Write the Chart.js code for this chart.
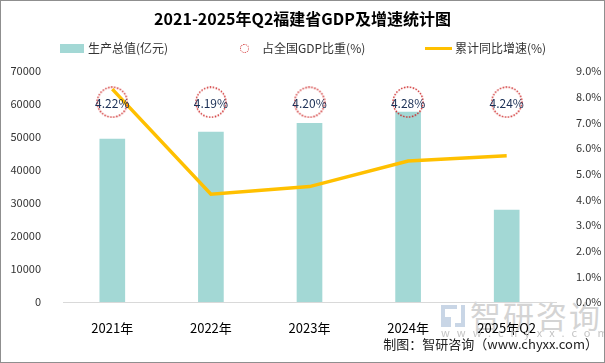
<!DOCTYPE html>
<html>
<head>
<meta charset="utf-8">
<script src="https://cdn.jsdelivr.net/npm/chart.js@4.4.1/dist/chart.umd.min.js"></script>
<style>
    body { margin: 0; background: #fff; }
    #wrap { position: relative; width: 605px; height: 363px; font-family: "Noto Sans CJK SC", sans-serif; overflow: hidden; }
    #chart { position: absolute; left: 0; top: 0; z-index: 2; }
    #frame { position: absolute; left: 0; top: 0; width: 603px; height: 361px; border: 1px solid #8f8f8f; z-index: 3; pointer-events: none; }
    .lg { position: absolute; z-index: 3; font-size: 12px; color: #333; line-height: 14px; white-space: nowrap; }
    .wm { position: absolute; z-index: 1; color: #d4d4d4; white-space: nowrap; }
    .src { position: absolute; z-index: 3; right: 7px; top: 334px; font-size: 13px; color: #222; white-space: nowrap; }
</style>
</head>
<body>
<div id="wrap">
    <canvas id="chart" width="605" height="363"></canvas>

    <!-- Legende -->
    <div class="lg" style="left:60px;top:44px;width:24px;height:9px;background:#a3d8d5"></div>
    <div class="lg" style="left:88px;top:41px">生产总值(亿元)</div>
    <div class="lg" style="left:240px;top:44px;width:7px;height:7px;border:1px dotted #d03030;border-radius:50%"></div>
    <div class="lg" style="left:262px;top:41px">占全国GDP比重(%)</div>
    <div class="lg" style="left:425px;top:47px;width:27px;height:3px;background:#ffc000"></div>
    <div class="lg" style="left:455px;top:41px">累计同比增速(%)</div>

    <!-- Wasserzeichen -->
    <div class="wm" style="left:441px;top:305px;width:12px;height:10px;border:4px solid #c9d6e6;border-right:none;border-bottom:none"></div>
    <div class="wm" style="left:455px;top:305px;width:10px;height:22px;border:4px solid #c9d6e6;border-left:none;border-top:none;box-sizing:border-box"></div>
    <div class="wm" style="left:441px;top:317px;width:10px;height:10px;background:#c9d6e6"></div>
    <div class="wm" style="left:470px;top:296px;font-size:31px;line-height:38px;letter-spacing:2px">智研咨询</div>
    <div class="wm" style="left:441px;top:326px;font-size:11px;line-height:12px;letter-spacing:7px;color:#c4c4c4;z-index:3">www.chyxx.com</div>

    <div class="src">制图：智研咨询（www.chyxx.com）</div>
    <div id="frame"></div>
</div>
<script>
const years = ['2021年', '2022年', '2023年', '2024年', '2025年Q2'];
const gdp = [49400, 51500, 54200, 57600, 27900];      // 生产总值(亿元)
const share = [4.22, 4.19, 4.20, 4.28, 4.24];        // 占全国GDP比重(%)
const growth = [8.3, 4.2, 4.5, 5.5, 5.7];            // 累计同比增速(%)

const gdpTicks = [0, 10000, 20000, 30000, 40000, 50000, 60000, 70000];
const growthTicks = [0, 1, 2, 3, 4, 5, 6, 7, 8, 9];

// gepunkteter Kreis als pointStyle
function dottedCircle(r) {
    const c = document.createElement('canvas');
    c.width = c.height = r * 2 + 2;
    const g = c.getContext('2d');
    g.strokeStyle = '#cc2020';
    g.lineWidth = 1.4;
    g.setLineDash([1.5, 1.5]);
    g.beginPath();
    g.arc(r + 1, r + 1, r, 0, Math.PI * 2);
    g.stroke();
    return c;
}

const labelFont = '"Noto Sans CJK SC", sans-serif';

const shareLabels = {
    id: 'shareLabels',
    afterDatasetsDraw(chart) {
        const meta = chart.getDatasetMeta(2);
        const ctx = chart.ctx;
        ctx.save();
        ctx.font = '12px ' + labelFont;
        ctx.fillStyle = '#1a2f55';
        ctx.textAlign = 'center';
        ctx.textBaseline = 'middle';
        meta.data.forEach((pt, i) => {
            ctx.fillText(share[i].toFixed(2) + '%', pt.x, pt.y + 1);
        });
        ctx.restore();
    }
};

new Chart(document.getElementById('chart'), {
    data: {
        labels: years,
        datasets: [
            {
                type: 'bar',
                label: '生产总值(亿元)',
                data: gdp,
                backgroundColor: '#a3d8d5',
                barThickness: 25,
                yAxisID: 'y',
                order: 3
            },
            {
                type: 'line',
                label: '累计同比增速(%)',
                data: growth,
                borderColor: '#ffc000',
                borderWidth: 3.5,
                pointRadius: 0,
                tension: 0,
                yAxisID: 'y1',
                order: 2
            },
            {
                type: 'line',
                label: '占全国GDP比重(%)',
                data: share,
                showLine: false,
                pointStyle: dottedCircle(15),
                yAxisID: 'y2',
                order: 1
            }
        ]
    },
    options: {
        responsive: false,
        animation: false,
        layout: { padding: 0 },
        plugins: {
            legend: { display: false },
            tooltip: { enabled: false },
            title: {
                display: true,
                text: '2021-2025年Q2福建省GDP及增速统计图',
                color: '#000',
                font: { size: 16, weight: 'bold', family: labelFont },
                padding: { top: 9, bottom: 43 }
            }
        },
        scales: {
            x: {
                grid: { display: false },
                border: { color: '#d9d9d9' },
                ticks: { color: '#000', font: { size: 13, family: labelFont }, padding: 10, maxRotation: 0 },
                afterFit: s => { s.height = 61; }
            },
            y: {
                position: 'left',
                min: 0, max: 70000,
                grid: { display: false },
                border: { display: false },
                afterBuildTicks: s => { s.ticks = gdpTicks.map(v => ({ value: v })); },
                ticks: { color: '#333', font: { size: 11, family: labelFont }, padding: 14, callback: v => String(v) },
                afterFit: s => { s.width = 63; }
            },
            y1: {
                position: 'right',
                min: 0, max: 9,
                grid: { display: false },
                border: { display: false },
                afterBuildTicks: s => { s.ticks = growthTicks.map(v => ({ value: v })); },
                ticks: { color: '#333', font: { size: 11, family: labelFont }, padding: 12, callback: v => v.toFixed(1) + '%' },
                afterFit: s => { s.width = 49; }
            },
            // verborgene Achse: weiter Bereich, damit alle Kreise auf gleicher Höhe liegen
            y2: {
                display: false,
                min: -100, max: 20.4
            }
        }
    },
    plugins: [shareLabels]
});
</script>
</body>
</html>
